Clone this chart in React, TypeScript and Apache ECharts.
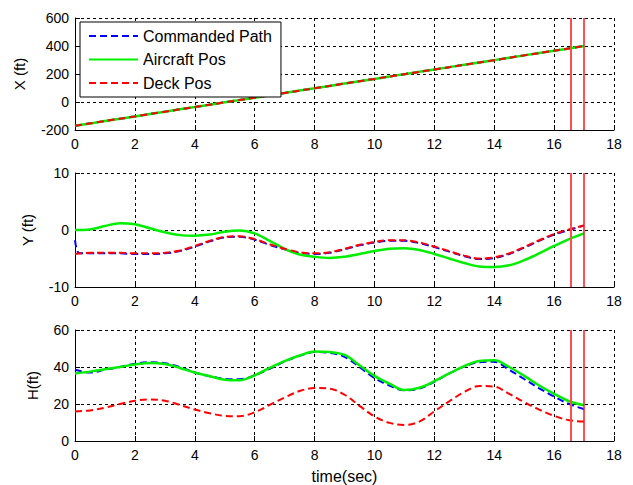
import React, { useEffect, useRef } from "react";
import * as echarts from "echarts";

// time base (sec)
const xTime = [0, 1, 2, 3, 4, 5, 6, 7, 8, 9, 10, 11, 12, 13, 14, 15, 16, 17];
const timeSec = [
  0, 0.5, 1, 1.5, 2, 2.5, 3, 3.5, 4, 4.5, 5, 5.5, 6, 6.5, 7, 7.5, 8, 8.5, 9,
  9.5, 10, 10.5, 11, 11.5, 12, 12.5, 13, 13.5, 14, 14.5, 15, 15.5, 16, 16.5, 17,
];

// X (ft)
const xCommanded = [-170, -136, -103, -69, -36, -2, 31, 65, 98, 132, 165, 199, 232, 266, 299, 333, 366, 400];
const xAircraft = [-170, -136, -103, -69, -36, -2, 31, 65, 98, 132, 165, 199, 232, 266, 299, 333, 366, 400];
const xDeck = [-170, -136, -103, -69, -36, -2, 31, 65, 98, 132, 165, 199, 232, 266, 299, 333, 366, 400];

// Y (ft)
const yCommandedStart = [-1.8, -4.1]; // at t = 0 and t = 0.15
const yCommandedStartTime = [0, 0.15];
const yCommanded = [
  -4.2, -4.1, -4.1, -4.1, -4.2, -4.2, -4.1, -3.7, -2.9, -2.0, -1.3, -1.2, -1.7, -2.6, -3.4, -4.0, -4.2, -4.0,
  -3.4, -2.7, -2.2, -1.9, -1.9, -2.3, -3.0, -3.8, -4.6, -5.1, -4.9, -4.2, -3.1, -1.9, -0.8, 0.0, 0.8,
];
const yAircraft = [
  0, 0.1, 0.7, 1.2, 1.0, 0.3, -0.4, -0.9, -1.0, -0.8, -0.3, -0.1, -0.6, -1.9, -3.3, -4.3, -4.7, -4.9, -4.7,
  -4.2, -3.7, -3.3, -3.2, -3.5, -4.2, -5.0, -5.8, -6.4, -6.5, -6.2, -5.3, -4.1, -2.8, -1.6, -0.6,
];
const yDeck = [
  -4.2, -4.0, -4.0, -4.0, -4.1, -4.1, -4.0, -3.6, -2.8, -1.9, -1.2, -1.1, -1.6, -2.5, -3.3, -3.9, -4.1, -3.9,
  -3.3, -2.6, -2.1, -1.8, -1.8, -2.2, -2.9, -3.7, -4.5, -5.0, -4.8, -4.1, -3.0, -1.8, -0.7, 0.1, 0.8,
];

// H (ft)
const hCommanded = [
  38.5, 37, 38.5, 40, 41.8, 42.6, 42, 40, 37, 35, 33.6, 33.4, 35.5, 39, 43, 46, 48.1, 47.7, 45.5, 40, 34, 30,
  27.4, 28.4, 32, 36.5, 40.3, 42.6, 42.8, 38.5, 33.5, 28.5, 24, 20, 17.2,
];
const hAircraft = [
  36.5, 37.5, 38.8, 40, 41.4, 42.2, 41.6, 39.5, 37, 35, 33.1, 32.8, 35.5, 39.5, 43.2, 46.2, 48.4, 48.1, 46.5, 41,
  35.2, 31, 27.6, 28.8, 32.3, 36.5, 40.5, 43.2, 43.6, 40, 35.2, 30, 25.5, 21.5, 19.3,
];
const hDeck = [
  16, 16.5, 18, 20, 21.7, 22.5, 21.8, 19.5, 17, 15, 13.6, 13.4, 15.5, 19.5, 23.5, 27, 28.6, 28.3, 25, 19,
  13.3, 9.8, 8.7, 10.5, 16, 21.5, 26.5, 29.7, 29.4, 25.5, 21, 17, 13.6, 11.2, 10.5,
];

// vertical markers (sec)
const markerTimes = [16.55, 17.0];

const seriesNames = ["Commanded Path", "Aircraft Pos", "Deck Pos"];
const yAxisNames = ["X (ft)", "Y (ft)", "H(ft)"];
const yRanges = [
  { min: -200, max: 600, interval: 200 },
  { min: -10, max: 10, interval: 10 },
  { min: 0, max: 60, interval: 20 },
];

const zip = (t: number[], v: number[]) => t.map((x, i) => [x, v[i]]);

const FONT = "Liberation Sans, Arial, sans-serif";

export default function App() {
  const ref = useRef<HTMLDivElement>(null);

  useEffect(() => {
    if (!ref.current) return;
    const chart = echarts.init(ref.current, undefined, { renderer: "svg" });

    const grids = [
      { left: 75, right: 19, top: 18, height: 112 },
      { left: 75, right: 19, top: 173, height: 114 },
      { left: 75, right: 19, top: 330, height: 113 },
    ];

    const dataSets = [
      [zip(xTime, xCommanded), zip(xTime, xAircraft), zip(xTime, xDeck)],
      [
        zip(yCommandedStartTime, yCommandedStart).concat(zip(timeSec.slice(1), yCommanded.slice(1))),
        zip(timeSec, yAircraft),
        zip(timeSec, yDeck),
      ],
      [zip(timeSec, hCommanded), zip(timeSec, hAircraft), zip(timeSec, hDeck)],
    ];

    const nameGaps = [48, 40, 35];

    const xAxes = grids.map((_, i) => ({
      type: "value",
      gridIndex: i,
      min: 0,
      max: 18,
      interval: 2,
      axisLine: { onZero: false, lineStyle: { color: "#000", width: 1 } },
      axisTick: { inside: true, length: 5, lineStyle: { color: "#000" } },
      axisLabel: { color: "#000", fontSize: 14, margin: 7, fontFamily: FONT },
      splitLine: { show: true, lineStyle: { color: "#000", type: [3, 3], width: 1 } },
      ...(i === 2
        ? {
            name: "time(sec)",
            nameLocation: "middle",
            nameGap: 27,
            nameTextStyle: { color: "#000", fontSize: 16, fontFamily: FONT },
          }
        : {}),
    }));

    const yAxes = grids.map((_, i) => ({
      type: "value",
      gridIndex: i,
      ...yRanges[i],
      name: yAxisNames[i],
      nameLocation: "middle",
      nameGap: nameGaps[i],
      nameRotate: 90,
      nameTextStyle: { color: "#000", fontSize: 15, fontFamily: FONT },
      axisLine: { onZero: false, lineStyle: { color: "#000", width: 1 } },
      axisTick: { inside: true, length: 5, lineStyle: { color: "#000" } },
      axisLabel: { color: "#000", fontSize: 14, margin: 6, fontFamily: FONT },
      splitLine: { show: true, lineStyle: { color: "#000", type: [3, 3], width: 1 } },
    }));

    const styles = [
      { color: "#0000ff", type: [7, 4] as any, width: 2 },
      { color: "#00ee00", type: "solid", width: 2.5 },
      { color: "#ff0000", type: [7, 4] as any, width: 2 },
    ];

    const series: any[] = [];
    grids.forEach((_, gi) => {
      dataSets[gi].forEach((data, si) => {
        series.push({
          type: "line",
          name: seriesNames[si],
          xAxisIndex: gi,
          yAxisIndex: gi,
          data,
          symbol: "none",
          showSymbol: false,
          smooth: 0.35,
          itemStyle: { color: styles[si].color },
          lineStyle: { ...styles[si] },
          silent: true,
          ...(si === 2
            ? {
                markLine: {
                  silent: true,
                  symbol: ["none", "none"],
                  label: { show: false },
                  data: markerTimes.map((t, k) => ({
                    xAxis: t,
                    lineStyle: { color: k === 0 ? "#ff4d4d" : "#ff1a1a", width: k === 0 ? 2 : 1.5, type: "solid" },
                  })),
                },
              }
            : {}),
        });
      });
    });

    chart.setOption({
      animation: false,
      backgroundColor: "#fff",
      textStyle: { fontFamily: FONT },
      grid: grids,
      xAxis: xAxes,
      yAxis: yAxes,
      legend: {
        data: seriesNames,
        orient: "vertical",
        left: 80,
        top: 22,
        itemWidth: 49,
        itemHeight: 16,
        itemGap: 7.5,
        padding: [6, 9, 6, 8],
        backgroundColor: "#fff",
        borderColor: "#000",
        borderWidth: 1,
        selectedMode: false,
        itemStyle: { opacity: 0 },
        textStyle: { color: "#000", fontSize: 16, fontFamily: FONT, lineHeight: 16 },
      },
      series,
    });

    return () => chart.dispose();
  }, []);

  return <div ref={ref} style={{ position: "absolute", left: 0, top: 0, width: 633, height: 485 }} />;
}
